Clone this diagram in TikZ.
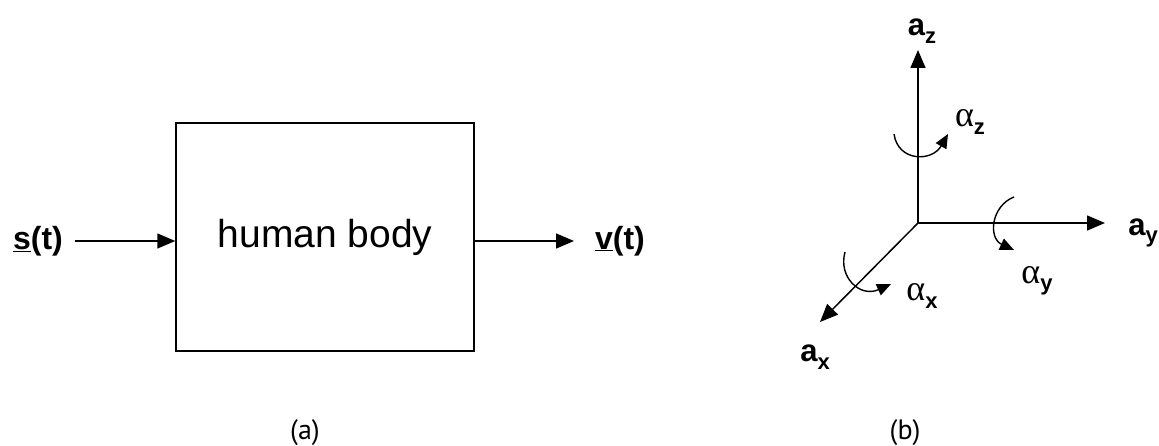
\documentclass[tikz,border=0pt]{standalone}
\usepackage{fontspec}
\setmainfont{Liberation Sans}
\newfontfamily\capfont{PT Sans}
\newfontfamily\greekfont{Liberation Serif}
\usetikzlibrary{arrows.meta}
\newcommand{\subx}[1]{\raisebox{-0.45ex}{\fontsize{22}{22}\selectfont\sffamily\bfseries\fontspec{Liberation Sans}#1}}
\begin{document}
\begin{tikzpicture}[x=1pt,y=-1pt,
  axis/.style={line width=1.5pt,-{Triangle[length=18pt,width=15pt]}},
  rot/.style={line width=1.4pt,-{Triangle[length=14pt,width=12pt]}},
  sig/.style={font=\fontsize{32}{32}\selectfont\bfseries,inner sep=0pt},
  axlabel/.style={font=\fontsize{31}{31}\selectfont\bfseries,inner sep=0pt},
  anglabel/.style={font=\greekfont\fontsize{36}{36}\selectfont,inner sep=0pt},
  caption/.style={font=\capfont\fontsize{28}{28}\selectfont,inner sep=0pt}]
\useasboundingbox (0,0) rectangle (1159,446);

% (a) block diagram
\node[draw,line width=1.5pt,minimum width=298pt,minimum height=228pt,
      font=\fontsize{39}{39}\selectfont] (body) at (325,237) {human body};
\node[sig] (s) at (38,241) {\underline{s}(t)};
\node[sig] (v) at (620,241) {\underline{v}(t)};
\coordinate (sout) at (75,241);
\coordinate (vin) at (574,241);
\draw[axis] (sout) -- (sout -| body.west);
\draw[axis] (sout -| body.east) -- (vin);

% (b) coordinate axes with rotations
\coordinate (O) at (918,223);
\coordinate (Z) at (918,50);
\coordinate (Y) at (1105,223);
\coordinate (X) at (820,322);
\draw[axis] (O) -- (Z);
\draw[axis] (O) -- (Y);
\draw[axis] (O) -- (X);

\node[axlabel] (az) at (922,31) {a\subx{z}};
\node[axlabel] (ay) at (1143,233) {a\subx{y}};
\node[axlabel] (ax) at (815,357) {a\subx{x}};

\node[anglabel] (alz) at (970,122) {α\subx{z}};
\node[anglabel] (aly) at (1037,281) {α\subx{y}};
\node[anglabel] (alx) at (922,296) {α\subx{x}};

\coordinate (rz0) at (894,134);
\coordinate (rz1) at (948,134);
\coordinate (ry0) at (1014,197);
\coordinate (ry1) at (1014,250);
\coordinate (rx0) at (845,252);
\coordinate (rx1) at (891,284);
\draw[rot] (rz0) .. controls (898,162) and (932,162) .. (rz1);
\draw[rot] (ry0) .. controls (991,206) and (988,238) .. (ry1);
\draw[rot] (rx0) .. controls (838,277) and (860,298) .. (rx1);

% captions
\node[caption] (capa) at (305,433) {(a)};
\node[caption] (capb) at (905,433) {(b)};
\end{tikzpicture}
\end{document}
